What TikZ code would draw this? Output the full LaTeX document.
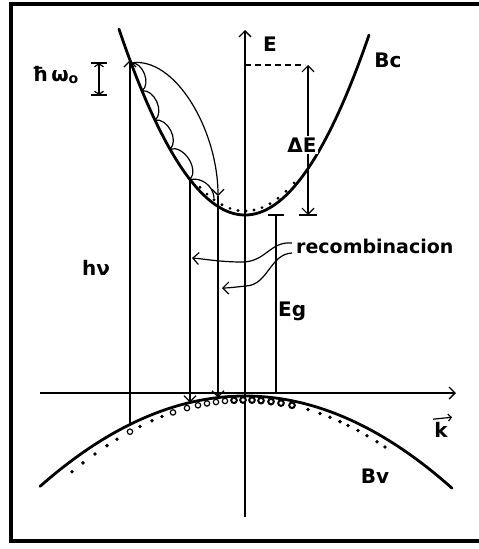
\documentclass[tikz,border=0pt]{standalone}
\usepackage{fontspec}
\setmainfont{DejaVu Sans}
\usetikzlibrary{arrows.meta}
\begin{document}
\begin{tikzpicture}[x=1pt,y=-1pt,
  declare function={
    bc(\x)=215-(0.0117+0.000003*(\x-245))*(\x-245)*(\x-245);
    bv(\x)=396+(0.00215+0.0000004*(\x-245))*(\x-245)*(\x-245);
    bd(\x)=400+0.0024*(\x-245)*(\x-245);},
  band/.style={line width=2.8pt,line cap=round},
  fine/.style={line width=1.2pt},
  axisline/.style={line width=1.3pt},
  lbl/.style={font=\bfseries\fontsize{20}{24}\selectfont,inner sep=0pt},
  sdot/.style={fill=black,draw=none},
  ocirc/.style={draw=black,line width=1.2pt,fill=white},
  dcirc/.style={draw=black,line width=2pt,fill=white},
  >={Straight Barb[length=6pt,width=12pt]}]
\useasboundingbox (0,0) rectangle (479,549);
% frame
\draw[line width=3.5pt] (479,4) -- (11,4) -- (11,541) -- (479,541);
% bands
\draw[band] plot[domain=119:369,samples=100,smooth] (\x,{bc(\x)});
\draw[band] plot[domain=40:452,samples=100,smooth] (\x,{bv(\x)});
% axes
\coordinate (E0) at (245,517);
\coordinate (E1) at (245,30);
\draw[axisline,->] (E0) -- (E1);
\coordinate (K0) at (40,393);
\coordinate (K1) at (456,393);
\draw[axisline,->] (K0) -- (K1);
% absorption
\coordinate (P0) at (130,{bc(130)});
\coordinate (V0) at (130,{bv(130)});
\draw[fine,->] (V0) -- (P0);
% phonon cascade
\coordinate (S0) at (131,{bc(131)});
\coordinate (S1) at (142,{bc(142)});
\coordinate (S2) at (155,{bc(155)});
\coordinate (S3) at (170,{bc(170)});
\coordinate (S4) at (190,{bc(190)});
\coordinate (S5) at (214,{bc(214)-6});
\draw[fine] (S0) to[bend left=75] (S1) to[bend left=75] (S2) to[bend left=75] (S3)
  to[bend left=75] (S4) to[bend left=50] (S5);
\coordinate (A1) at (218,196);
\draw[fine,->] (S0) .. controls (175,56) and (218,130) .. (A1);
% emission lines
\coordinate (V1) at (190,{bv(190)});
\draw[fine,->] (S4) -- (V1);
\coordinate (V2) at (218,{bv(218)});
\draw[fine,->] (A1) -- (V2);
% Eg
\coordinate (G0) at (276,215);
\coordinate (G1) at (276,393);
\draw[fine] (G0) -- (G1);
\draw[fine] ([xshift=-8pt]G0) -- ([xshift=8pt]G0);
% Delta E
\coordinate (Dl) at (245,65);
\coordinate (D0) at (308,65);
\coordinate (D1) at (308,215);
\draw[fine,dash pattern=on 6pt off 4pt] (Dl) -- ([xshift=-3pt]D0);
\draw[fine,<->] (D0) -- (D1);
\draw[fine] ([xshift=-9pt]D1) -- ([xshift=9pt]D1);
% hbar omega marker
\coordinate (H0) at (99,63);
\coordinate (H1) at (99,95);
\draw[fine,{Straight Barb[length=3pt,width=9pt]}-{Straight Barb[length=3pt,width=9pt]}] (H0) -- (H1);
\draw[fine] ([xshift=-8pt]H0) -- ([xshift=8pt]H0);
\draw[fine] ([xshift=-8pt]H1) -- ([xshift=8pt]H1);
% dots in conduction band
\foreach \x in {200,207,214,222,230,238,246,254,262,270,278,286,294}
  \fill ({\x},{bc(\x)-4}) circle (1.6pt);
% dots in valence band
\foreach \x in {72,83,95,107,117,140,152,162,308,320,330,340,348,358,367,377,385}
  \fill[sdot] ({\x},{bd(\x)}) circle (1.9pt);
\foreach \x in {130,173,187,198,207,216,225}
  \draw[ocirc] ({\x},{bd(\x)}) circle (2.7pt);
\foreach \x in {234,243,252,261,271,281,292}
  \draw[dcirc] ({\x},{bd(\x)}) circle (2.8pt);
% labels
\node[lbl] (Elbl) at (270,44) {E};
\node[lbl] (Bclbl) at (388,60) {Bc};
\node[lbl,fill=white,inner sep=1.5pt] (dElbl) at (302,145) {ΔE};
\node[lbl,anchor=base west] (hw) at (32,81) {ħ\,ω\raisebox{-2pt}{\fontsize{14}{16}\selectfont o}};
\node[lbl] (hnu) at (96,268) {hν};
\node[lbl,anchor=base west] (Eg) at (278,316) {Eg};
\node[lbl,font=\bfseries\fontsize{19}{24}\selectfont,anchor=base west] (rec) at (296,253) {recombinacion};
\node[lbl] (Bvlbl) at (375,476) {Bv};
\node[lbl] (klbl) at (441,430) {k};
\draw[fine,->,>={Straight Barb[length=3pt,width=7pt]}] ([xshift=-8pt,yshift=3pt]klbl.north) -- ([xshift=11pt,yshift=5pt]klbl.north);
% recombination arrows
\coordinate (R1) at (292,243);
\coordinate (R2) at (292,253);
\coordinate (T1) at (192,258);
\coordinate (T2) at (222,288);
\draw[fine,->] (R1) .. controls (270,241) and (266,262) .. (242,262) .. controls (220,262) and (205,259) .. (T1);
\draw[fine,->] (R2) .. controls (270,254) and (268,285) .. (246,286) .. controls (236,287) and (229,288) .. (T2);
\end{tikzpicture}
\end{document}
